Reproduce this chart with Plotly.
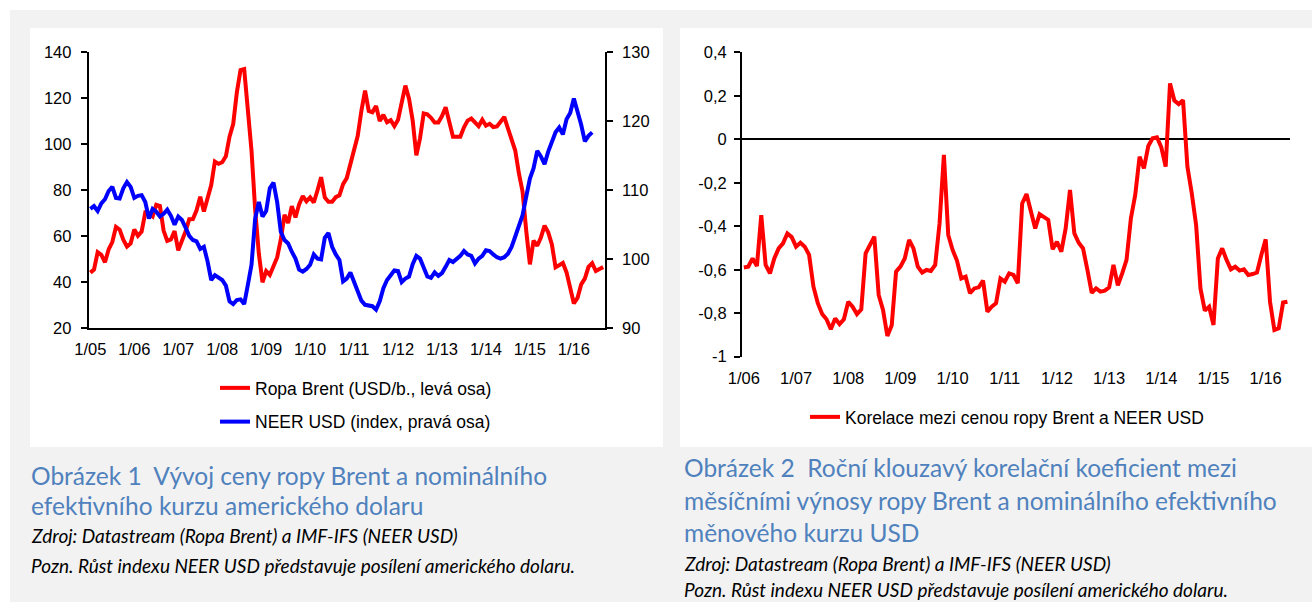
import plotly.graph_objects as go

# --- Brent crude oil, monthly average price (USD per barrel), 1/2005 - 9/2016
brent = [
    44.2, 45.5, 53.1, 51.9, 48.7, 54.3, 57.5, 64.1, 62.9, 58.5, 55.5, 56.9,
    63.0, 60.2, 62.0, 70.3, 69.8, 68.6, 73.7, 73.2, 62.5, 58.0, 58.6, 62.3,
    53.9, 57.6, 62.1, 67.4, 67.5, 71.3, 77.2, 70.8, 77.1, 82.3, 92.5, 91.5,
    92.2, 94.8, 103.3, 108.8, 122.6, 132.3, 132.7, 113.2, 97.2, 71.6, 52.5, 40.0,
    44.9, 43.2, 46.8, 50.8, 58.6, 69.3, 65.8, 73.1, 68.2, 73.9, 77.5, 75.2,
    76.9, 74.7, 79.9, 85.7, 76.9, 75.0, 75.0, 77.0, 77.8, 82.7, 85.3, 91.5,
    96.5, 103.7, 114.6, 123.3, 114.5, 113.9, 116.7, 110.1, 112.8, 109.6, 110.5, 107.9,
    110.7, 119.3, 125.5, 119.8, 110.3, 95.2, 102.6, 113.4, 113.0, 111.5, 109.5, 109.5,
    112.3, 116.1, 109.5, 103.3, 103.3, 103.3, 107.4, 110.3, 111.2, 109.5, 107.9, 110.7,
    108.1, 108.9, 107.5, 107.8, 109.7, 111.9, 106.9, 101.9, 97.3, 87.3, 79.4, 62.3,
    47.8, 58.1, 55.9, 59.5, 64.6, 61.7, 56.5, 46.5, 47.6, 48.4, 44.3, 38.0,
    30.8, 33.2, 39.1, 41.6, 46.7, 48.3, 44.9, 45.8, 46.6,
]

# --- Nominal effective exchange rate of the USD (index), 1/2005 - 6/2016
neer = [
    107.3, 107.7, 107.0, 108.1, 108.7, 109.9, 110.5, 108.9, 108.8, 110.3, 111.2, 110.5,
    108.9, 109.2, 109.3, 108.3, 105.9, 107.3, 106.9, 106.2, 106.6, 107.2, 106.3, 105.0,
    106.2, 105.7, 104.6, 103.4, 102.8, 102.6, 101.5, 101.8, 99.7, 97.0, 97.7, 97.4,
    97.0, 96.2, 93.9, 93.5, 94.1, 94.2, 93.5, 96.3, 99.2, 105.9, 108.3, 106.2,
    107.0, 110.3, 111.1, 108.3, 104.0, 102.8, 102.3, 101.1, 100.1, 98.5, 98.2, 98.6,
    99.2, 100.7, 100.1, 100.0, 103.1, 103.8, 101.8, 100.7, 99.9, 96.8, 97.2, 98.1,
    96.8, 95.3, 94.0, 93.4, 93.3, 93.2, 92.7, 93.9, 95.8, 97.0, 97.7, 98.4,
    98.3, 96.7, 97.2, 97.5, 99.3, 100.5, 100.1, 98.9, 97.5, 97.3, 98.1, 97.6,
    98.0, 98.9, 99.9, 99.6, 100.1, 100.5, 101.2, 100.7, 100.5, 99.4, 100.1, 100.5,
    101.3, 101.2, 100.7, 100.3, 100.1, 100.3, 100.8, 101.8, 103.3, 104.7, 106.4, 109.1,
    111.7, 113.2, 115.7, 114.9, 113.8, 115.6, 117.0, 118.4, 119.1, 118.1, 120.3, 121.2,
    123.3, 121.6, 119.5, 117.1, 117.9, 118.4,
]

# --- 12-month rolling correlation of monthly returns, 1/2006 - 6/2016
corr = [
    -0.590, -0.586, -0.548, -0.583, -0.349, -0.578, -0.617, -0.548, -0.502, -0.479, -0.433, -0.450,
    -0.494, -0.476, -0.494, -0.532, -0.678, -0.754, -0.804, -0.828, -0.874, -0.824, -0.850, -0.828,
    -0.747, -0.770, -0.804, -0.782, -0.524, -0.482, -0.448, -0.716, -0.785, -0.905, -0.855, -0.609,
    -0.586, -0.548, -0.463, -0.502, -0.586, -0.613, -0.601, -0.606, -0.578, -0.387, -0.072, -0.440,
    -0.509, -0.558, -0.640, -0.632, -0.708, -0.686, -0.681, -0.650, -0.793, -0.770, -0.754, -0.640,
    -0.655, -0.617, -0.624, -0.662, -0.295, -0.252, -0.333, -0.410, -0.344, -0.356, -0.371, -0.506,
    -0.471, -0.517, -0.410, -0.233, -0.433, -0.476, -0.502, -0.601, -0.706, -0.686, -0.701, -0.696,
    -0.681, -0.578, -0.672, -0.617, -0.555, -0.364, -0.256, -0.080, -0.134, -0.031, 0.005, 0.009,
    -0.037, -0.126, 0.257, 0.178, 0.162, 0.180, -0.126, -0.248, -0.394, -0.686, -0.788, -0.770,
    -0.854, -0.548, -0.502, -0.555, -0.598, -0.586, -0.604, -0.598, -0.624, -0.620, -0.613, -0.532,
    -0.460, -0.747, -0.877, -0.869, -0.751, -0.747,
]

# monthly category labels "m/yy"
months_left = [f"{m}/{y:02d}" for y in range(5, 17) for m in range(1, 13)][:len(brent)]
months_right = [f"{m}/{y:02d}" for y in range(6, 17) for m in range(1, 13)][:len(corr)]
years_left = [f"1/{y:02d}" for y in range(5, 17)]
years_right = [f"1/{y:02d}" for y in range(6, 17)]
corr_ticks = [-1.0, -0.8, -0.6, -0.4, -0.2, 0.0, 0.2, 0.4]
corr_ticktext = ["-1", "-0,8", "-0,6", "-0,4", "-0,2", "0", "0,2", "0,4"]

W, H = 1312, 602
AX_FONT = dict(family="Liberation Sans, Arial, sans-serif", size=16.5, color="#000000")
LEG_FONT = dict(family="Liberation Sans, Arial, sans-serif", size=17.5, color="#000000")
CAP_FONT = "Lato, Open Sans, sans-serif"
CAP_BLUE = "#4F81BD"


def px_x(p):
    return p / W


def px_y(p):
    return 1 - p / H


fig = go.Figure()

fig.add_trace(go.Scatter(
    x=months_left, y=brent, name="Ropa Brent (USD/b., levá osa)",
    mode="lines", line=dict(color="#ff0000", width=4),
    xaxis="x", yaxis="y", legend="legend", legendgroup="brent",
))
fig.add_trace(go.Scatter(
    x=months_left[:len(neer)], y=neer, name="NEER USD (index, pravá osa)",
    mode="lines", line=dict(color="#0000ff", width=4),
    xaxis="x", yaxis="y2", legend="legend", legendgroup="neer",
))
fig.add_trace(go.Scatter(
    x=months_right, y=corr, name="Korelace mezi cenou ropy Brent a NEER USD",
    mode="lines", line=dict(color="#ff0000", width=4),
    xaxis="x2", yaxis="y3", legend="legend2",
))

axis_common = dict(showgrid=False, linecolor="#000000", linewidth=1.5,
                   tickcolor="#000000", tickwidth=1.5, tickfont=AX_FONT,
                   automargin=False)

fig.update_layout(
    width=W, height=H,
    autosize=False,
    margin=dict(l=0, r=0, t=0, b=0, pad=0, autoexpand=False),
    paper_bgcolor="#ffffff",
    plot_bgcolor="rgba(0,0,0,0)",
    xaxis=dict(
        domain=[px_x(88.5), px_x(605)], anchor="y", type="category",
        categoryorder="array", categoryarray=months_left,
        range=[-0.5, len(brent) - 0.5], tickvals=years_left, ticktext=years_left,
        showline=True, ticks="", zeroline=False, ticklabelstandoff=5,
        **axis_common,
    ),
    yaxis=dict(
        domain=[px_y(328.3), px_y(52.3)], anchor="x", range=[20, 140], dtick=20,
        showline=True, ticks="outside", ticklen=6, zeroline=False,
        ticklabelstandoff=6, **axis_common,
    ),
    yaxis2=dict(
        overlaying="y", side="right", anchor="x", range=[90, 130], dtick=10,
        showline=True, ticks="outside", ticklen=6, zeroline=False,
        ticklabelstandoff=6, **axis_common,
    ),
    xaxis2=dict(
        domain=[px_x(741.7), px_x(1289.6)], anchor="y3", type="category",
        categoryorder="array", categoryarray=months_right,
        range=[-0.5, len(corr) - 0.5], tickvals=years_right, ticktext=years_right,
        showline=False, ticks="", zeroline=False, ticklabelstandoff=10,
        **axis_common,
    ),
    yaxis3=dict(
        domain=[px_y(356.7), px_y(52.3)], anchor="x2", range=[-1, 0.4],
        tickvals=corr_ticks, ticktext=corr_ticktext,
        showline=True, ticks="outside", ticklen=6,
        zeroline=True, zerolinecolor="#000000", zerolinewidth=1.5,
        ticklabelstandoff=4, **axis_common,
    ),
    legend=dict(
        x=px_x(215), y=px_y(370), xanchor="left", yanchor="top",
        orientation="v", bgcolor="rgba(0,0,0,0)", font=LEG_FONT,
        tracegroupgap=8, itemwidth=30,
    ),
    legend2=dict(
        x=px_x(805), y=px_y(399), xanchor="left", yanchor="top",
        orientation="v", bgcolor="rgba(0,0,0,0)", font=LEG_FONT, itemwidth=30,
    ),
    showlegend=True,
)

# page background, two white chart panels
fig.add_shape(type="rect", xref="paper", yref="paper", layer="below",
              x0=px_x(10), x1=1, y0=0, y1=px_y(10),
              fillcolor="#f2f2f2", line=dict(width=0))
for x0, x1 in [(30, 663), (680, 1312)]:
    fig.add_shape(type="rect", xref="paper", yref="paper", layer="below",
                  x0=px_x(x0), x1=px_x(x1), y0=px_y(447), y1=px_y(28),
                  fillcolor="#ffffff", line=dict(width=0))

# figure captions
captions = [
    (30, 475, "Obrázek 1  Vývoj ceny ropy Brent a nominálního", False),
    (30, 505, "efektivního kurzu amerického dolaru", False),
    (30, 535, "Zdroj: Datastream (Ropa Brent) a IMF-IFS (NEER USD)", True),
    (30, 565, "Pozn. Růst indexu NEER USD představuje posílení amerického dolaru.", True),
    (683, 467, "Obrázek 2  Roční klouzavý korelační koeficient mezi", False),
    (683, 500, "měsíčními výnosy ropy Brent a nominálního efektivního", False),
    (683, 532, "měnového kurzu USD", False),
    (683, 563, "Zdroj: Datastream (Ropa Brent) a IMF-IFS (NEER USD)", True),
    (683, 589, "Pozn. Růst indexu NEER USD představuje posílení amerického dolaru.", True),
]
for x, y, text, note in captions:
    if note:
        txt = f"<i>{text}</i>"
        font = dict(family=CAP_FONT, size=19, color="#000000")
    else:
        txt = text
        font = dict(family=CAP_FONT, size=24.5, color=CAP_BLUE)
    fig.add_annotation(x=px_x(x), y=px_y(y), xref="paper", yref="paper",
                       xanchor="left", yanchor="middle", text=txt,
                       showarrow=False, font=font, align="left",
                       xshift=-1)

fig.write_html("out.html", config={"displayModeBar": False},
               post_script="document.body.style.margin='0';document.body.style.padding='0';")
